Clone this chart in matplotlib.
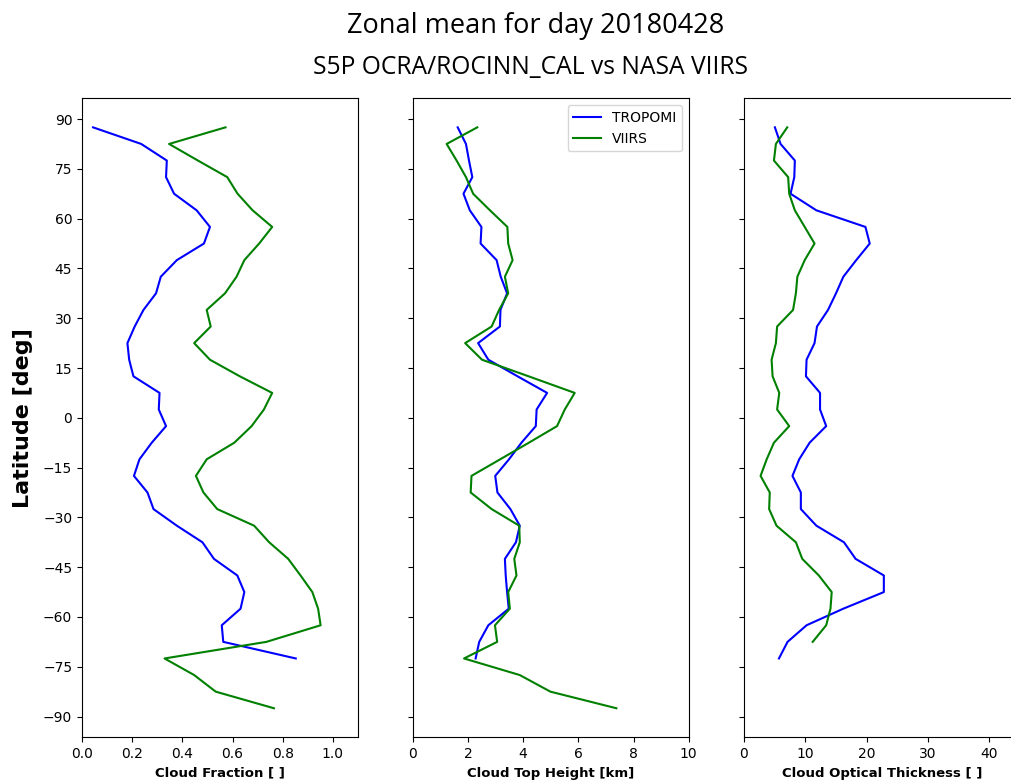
import matplotlib
matplotlib.use("Agg")
import matplotlib.pyplot as plt
import numpy as np

# Latitude bins (deg)
lat = [87.5, 82.5, 77.5, 72.5, 67.5, 62.5, 57.5, 52.5, 47.5, 42.5,
       37.5, 32.5, 27.5, 22.5, 17.5, 12.5, 7.5, 2.5, -2.5, -7.5,
       -12.5, -17.5, -22.5, -27.5, -32.5, -37.5, -42.5, -47.5, -52.5, -57.5,
       -62.5, -67.5, -72.5, -77.5, -82.5, -87.5]

# Cloud fraction
cf_tropomi = [0.044, 0.236, 0.338, 0.335, 0.367, 0.457, 0.510, 0.486, 0.378, 0.314,
              0.295, 0.245, 0.210, 0.181, 0.188, 0.205, 0.309, 0.306, 0.335, 0.278,
              0.229, 0.207, 0.261, 0.285, 0.378, 0.480, 0.526, 0.619, 0.647, 0.632,
              0.557, 0.563, 0.852]
cf_viirs = [0.572, 0.347, 0.462, 0.579, 0.620, 0.680, 0.758, 0.706, 0.647, 0.616,
            0.570, 0.497, 0.513, 0.447, 0.510, 0.629, 0.758, 0.725, 0.676, 0.607,
            0.497, 0.454, 0.484, 0.539, 0.686, 0.746, 0.822, 0.871, 0.918, 0.941,
            0.951, 0.735, 0.329, 0.447, 0.533, 0.765]

# Cloud top height [km]
cth_tropomi = [1.63, 1.93, 2.04, 2.16, 1.84, 2.07, 2.49, 2.46, 3.04, 3.19,
               3.42, 3.18, 3.16, 2.37, 2.74, 3.80, 4.87, 4.49, 4.46, 3.94,
               3.49, 2.99, 3.07, 3.54, 3.88, 3.74, 3.34, 3.37, 3.42, 3.48,
               2.74, 2.41, 2.28]
cth_viirs = [2.34, 1.23, 1.59, 1.93, 2.19, 2.80, 3.43, 3.46, 3.62, 3.34,
             3.46, 3.13, 2.86, 1.90, 2.51, 4.20, 5.87, 5.51, 5.23, 4.21,
             3.17, 2.13, 2.10, 2.86, 3.86, 3.88, 3.68, 3.76, 3.46, 3.52,
             2.98, 3.06, 1.86, 3.88, 4.99, 7.38]

# Cloud optical thickness
cot_tropomi = [5.04, 5.96, 8.29, 8.20, 7.59, 11.8, 19.8, 20.5, 18.3, 16.2,
               15.0, 13.7, 11.9, 11.5, 10.2, 10.1, 12.4, 12.4, 13.4, 10.7,
               9.0, 7.9, 9.27, 9.27, 11.8, 16.3, 18.2, 22.8, 22.8, 16.2,
               10.2, 7.1, 5.7]
cot_viirs = [7.05, 5.2, 4.88, 7.2, 7.37, 8.29, 9.9, 11.5, 9.9, 8.7,
             8.46, 8.0, 5.4, 5.2, 4.5, 4.66, 5.75, 5.4, 7.37, 4.88,
             3.7, 2.7, 4.2, 4.1, 5.3, 8.46, 9.5, 12.2, 14.3, 14.1,
             13.4, 11.2]

xlabels = ["Cloud Fraction [ ]", "Cloud Top Height [km]", "Cloud Optical Thickness [ ]"]
xlims = [(0, 1.1), (0, 10), (0, 45)]
xticks = [[0.0, 0.2, 0.4, 0.6, 0.8, 1.0], [0, 2, 4, 6, 8, 10], [0, 10, 20, 30, 40]]
yticks = [-90, -75, -60, -45, -30, -15, 0, 15, 30, 45, 60, 75, 90]

W, H = 1012, 782
fig = plt.figure(figsize=(W / 100, H / 100), dpi=100)

lefts = [82, 412.7, 744]
axw = 276
bottom = 44.7
axh = 639

tro = [cf_tropomi, cth_tropomi, cot_tropomi]
vii = [cf_viirs, cth_viirs, cot_viirs]

axes = []
for i in range(3):
    if i == 0:
        ax = fig.add_axes([lefts[i] / W, bottom / H, axw / W, axh / H])
    else:
        ax = fig.add_axes([lefts[i] / W, bottom / H, axw / W, axh / H], sharey=axes[0])
    ax.plot(tro[i], lat[:len(tro[i])], color="blue", lw=1.5, label="TROPOMI")
    ax.plot(vii[i], lat[:len(vii[i])], color="green", lw=1.5, label="VIIRS")
    ax.set_xlim(*xlims[i])
    ax.set_xticks(xticks[i])
    if i == 0:
        ax.set_xticklabels(["0.0", "0.2", "0.4", "0.6", "0.8", "1.0"])
    ax.set_xlabel(xlabels[i], fontsize=9.5, fontweight="bold")
    ax.tick_params(labelsize=10)
    if i > 0:
        ax.tick_params(labelleft=False)
    axes.append(ax)

axes[0].set_yticks(yticks)
axes[0].set_ylim(-96.25, 96.25)

axes[1].legend(loc="upper right", fontsize=10)

fig.text(23 / W, 1 - 418 / H, "Latitude [deg]", rotation=90, fontsize=16,
         fontweight="bold", ha="center", va="center")

fig.text(536 / W, 1 - 33 / H, "Zonal mean for day 20180428", fontsize=19.5,
         family=["Open Sans", "DejaVu Sans"], ha="center", va="baseline")
fig.text(530.5 / W, 1 - 74 / H, "S5P OCRA/ROCINN_CAL vs NASA VIIRS", fontsize=17.7,
         family=["Open Sans", "DejaVu Sans"], ha="center", va="baseline")

fig.savefig("out.png", dpi=100)
